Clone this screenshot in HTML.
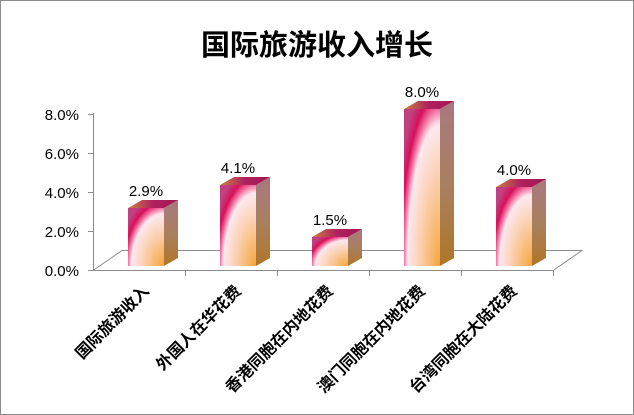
<!DOCTYPE html>
<html><head><meta charset="utf-8"><style>
body{margin:0;background:#fff}
svg{display:block}
text{font-family:"Liberation Sans","Noto Sans CJK SC",sans-serif}
</style></head><body>
<svg width="634" height="415" viewBox="0 0 634 415" xmlns="http://www.w3.org/2000/svg">
<defs>
<radialGradient id="fr" cx="1" cy="1" r="1.25">
<stop offset="0" stop-color="#f6a63a"/>
<stop offset="0.45" stop-color="#fbd0b0"/>
<stop offset="0.72" stop-color="#fde8ef"/>
<stop offset="0.8" stop-color="#f070a0"/>
<stop offset="0.88" stop-color="#d8105a"/>
<stop offset="1" stop-color="#c04080"/>
</radialGradient>
<linearGradient id="sd" x1="0" y1="0" x2="0" y2="1">
<stop offset="0" stop-color="#a87880"/>
<stop offset="0.5" stop-color="#a88060"/>
<stop offset="1" stop-color="#b07628"/>
</linearGradient>
<linearGradient id="tp" x1="0" y1="0" x2="1" y2="0">
<stop offset="0" stop-color="#c88040"/>
<stop offset="0.5" stop-color="#b02060"/>
<stop offset="1" stop-color="#a01850"/>
</linearGradient>
</defs>
<rect x="0.5" y="0.5" width="633" height="414" fill="#fff" stroke="#8c8c8c"/>
<text x="317" y="55" font-size="29" font-weight="bold" text-anchor="middle" fill="#000">国际旅游收入增长</text>
<g stroke="#8c8c8c" fill="none" stroke-width="1">
<line x1="93.5" y1="113" x2="93.5" y2="271"/>
<polyline points="93,270.5 553,270.5 582,250.5 122,250.5 93,270.5"/>
<line x1="88" y1="114.5" x2="93" y2="114.5"/><line x1="88" y1="153.5" x2="93" y2="153.5"/>
<line x1="88" y1="192.5" x2="93" y2="192.5"/><line x1="88" y1="231.5" x2="93" y2="231.5"/>
<line x1="88" y1="270.5" x2="93" y2="270.5"/>
<line x1="185.5" y1="270" x2="185.5" y2="276"/><line x1="277.5" y1="270" x2="277.5" y2="276"/>
<line x1="369.5" y1="270" x2="369.5" y2="276"/><line x1="461.5" y1="270" x2="461.5" y2="276"/>
<line x1="553.5" y1="270" x2="553.5" y2="276"/>
</g>
<g font-size="15" fill="#000" text-anchor="end">
<text x="79" y="120">8.0%</text><text x="79" y="159">6.0%</text>
<text x="79" y="198">4.0%</text><text x="79" y="237">2.0%</text><text x="79" y="276">0.0%</text>
</g>
<g>
<rect x="128" y="208" width="36" height="58" fill="url(#fr)"/>
<polygon points="164,208 178,200 178,258 164,266" fill="url(#sd)"/>
<polygon points="128,208 142,200 178,200 164,208" fill="url(#tp)"/>
<text x="146" y="196" font-size="15" text-anchor="middle">2.9%</text>
</g>
<g>
<rect x="220" y="185" width="36" height="81" fill="url(#fr)"/>
<polygon points="256,185 270,177 270,258 256,266" fill="url(#sd)"/>
<polygon points="220,185 234,177 270,177 256,185" fill="url(#tp)"/>
<text x="238" y="173" font-size="15" text-anchor="middle">4.1%</text>
</g>
<g>
<rect x="312" y="237" width="36" height="29" fill="url(#fr)"/>
<polygon points="348,237 362,229 362,258 348,266" fill="url(#sd)"/>
<polygon points="312,237 326,229 362,229 348,237" fill="url(#tp)"/>
<text x="330" y="225" font-size="15" text-anchor="middle">1.5%</text>
</g>
<g>
<rect x="404" y="109" width="36" height="157" fill="url(#fr)"/>
<polygon points="440,109 454,101 454,258 440,266" fill="url(#sd)"/>
<polygon points="404,109 418,101 454,101 440,109" fill="url(#tp)"/>
<text x="422" y="97" font-size="15" text-anchor="middle">8.0%</text>
</g>
<g>
<rect x="496" y="187" width="36" height="79" fill="url(#fr)"/>
<polygon points="532,187 546,179 546,258 532,266" fill="url(#sd)"/>
<polygon points="496,187 510,179 546,179 532,187" fill="url(#tp)"/>
<text x="514" y="175" font-size="15" text-anchor="middle">4.0%</text>
</g>
<g font-size="16" font-weight="bold" fill="#000" text-anchor="end">
<text transform="translate(150,292) rotate(-45)">国际旅游收入</text>
<text transform="translate(242,292) rotate(-45)">外国人在华花费</text>
<text transform="translate(334,292) rotate(-45)">香港同胞在内地花费</text>
<text transform="translate(426,292) rotate(-45)">澳门同胞在内地花费</text>
<text transform="translate(518,292) rotate(-45)">台湾同胞在大陆花费</text>
</g>
</svg>
</body></html>
